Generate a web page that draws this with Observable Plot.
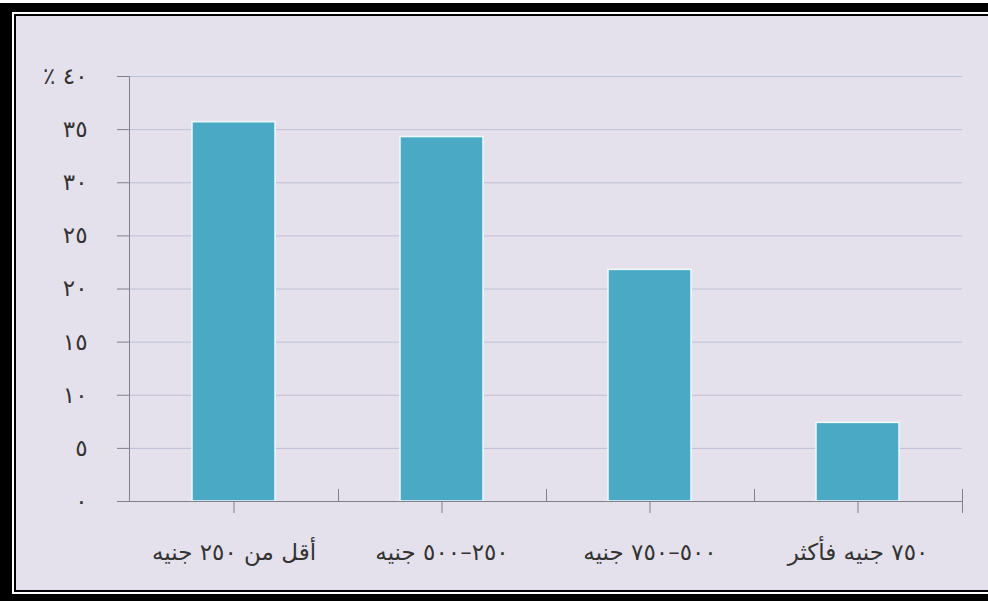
<!DOCTYPE html>
<html lang="ar">
<head>
<meta charset="utf-8">
<script src="https://cdn.jsdelivr.net/npm/d3@7"></script>
<script src="https://cdn.jsdelivr.net/npm/@observablehq/plot@0.6"></script>
<style>
  html, body { margin: 0; padding: 0; background: #e5e1ec; overflow: hidden; }
  #wrap { position: relative; width: 100vw; min-width: 988px; height: 601px; overflow: hidden; background: #fff; }
  .band { position: absolute; right: -40px; }
  #chart { position: absolute; left: 16px; top: 16px; right: -40px; height: 574px; background: #e5e1ec; }
  #chart svg { display: block; }
</style>
</head>
<body>
<div id="wrap">
  <div class="band" style="left:0;top:3px;height:598px;background:#000"></div>
  <div class="band" style="left:12px;top:12px;height:582px;background:#fff"></div>
  <div class="band" style="left:14px;top:14px;height:578px;background:#000"></div>
  <div id="chart"></div>
</div>
<script>
// Monthly income brackets and the share of households in each (%)
const categories = ["أقل من ٢٥٠ جنيه", "٢٥٠–٥٠٠ جنيه", "٥٠٠–٧٥٠ جنيه", "٧٥٠ جنيه فأكثر"];
const shares = [35.7, 34.3, 21.8, 7.4];

// Y axis ticks and their Arabic-Indic labels
const yTicks = [0, 5, 10, 15, 20, 25, 30, 35, 40];
const yTickLabels = ["٠", "٥", "١٠", "١٥", "٢٠", "٢٥", "٣٠", "٣٥", "٪ ٤٠"];

const data = categories.map((c, i) => ({category: c, share: shares[i]}));

const axisColor = "#80808c";

// Short upward ticks on the baseline between the category bands
function bandSeparators(index, scales) {
  const x = scales.x, y = scales.y;
  const bw = x.bandwidth ? x.bandwidth() : 0;
  const step = x.step ? x.step() : (x(categories[1]) - x(categories[0]));
  const y0 = y(0);
  const g = d3.create("svg:g").attr("stroke", axisColor).attr("stroke-width", 1);
  categories.forEach((c, i) => {
    const bx = Math.round(x(c) + bw / 2 + step / 2) + 0.5;
    const last = i === categories.length - 1;
    g.append("line")
      .attr("x1", bx).attr("x2", bx)
      .attr("y1", last ? y0 + 12 : y0).attr("y2", y0 - 12);
  });
  return g.node();
}

const chart = Plot.plot({
  width: 972,
  height: 574,
  marginLeft: 113,
  marginRight: 26,
  marginTop: 60,
  marginBottom: 89,
  style: {background: "transparent", fontFamily: "'DejaVu Sans', sans-serif", color: "#333"},
  x: {domain: categories, paddingInner: 0.6, paddingOuter: 0.3, label: null},
  y: {domain: [0, 40], label: null},
  marks: [
    Plot.gridY(yTicks, {stroke: "#bcc0d3", strokeOpacity: 1}),
    Plot.barY(data, {x: "category", y: "share", fill: "#4aaac5", stroke: "#effafc", strokeWidth: 1.5}),
    Plot.frame({anchor: "left", stroke: axisColor}),
    Plot.ruleY([0], {stroke: axisColor}),
    Plot.axisY(yTicks, {
      tickSize: 12, tickPadding: 30, fontSize: 23, stroke: axisColor, fill: "#333",
      tickFormat: d => yTickLabels[yTicks.indexOf(d)], label: null
    }),
    Plot.axisX({tickSize: 12, tickPadding: 30, fontSize: 23, stroke: axisColor, fill: "#333", label: null}),
    bandSeparators
  ]
});

document.getElementById("chart").appendChild(chart);
</script>
</body>
</html>
